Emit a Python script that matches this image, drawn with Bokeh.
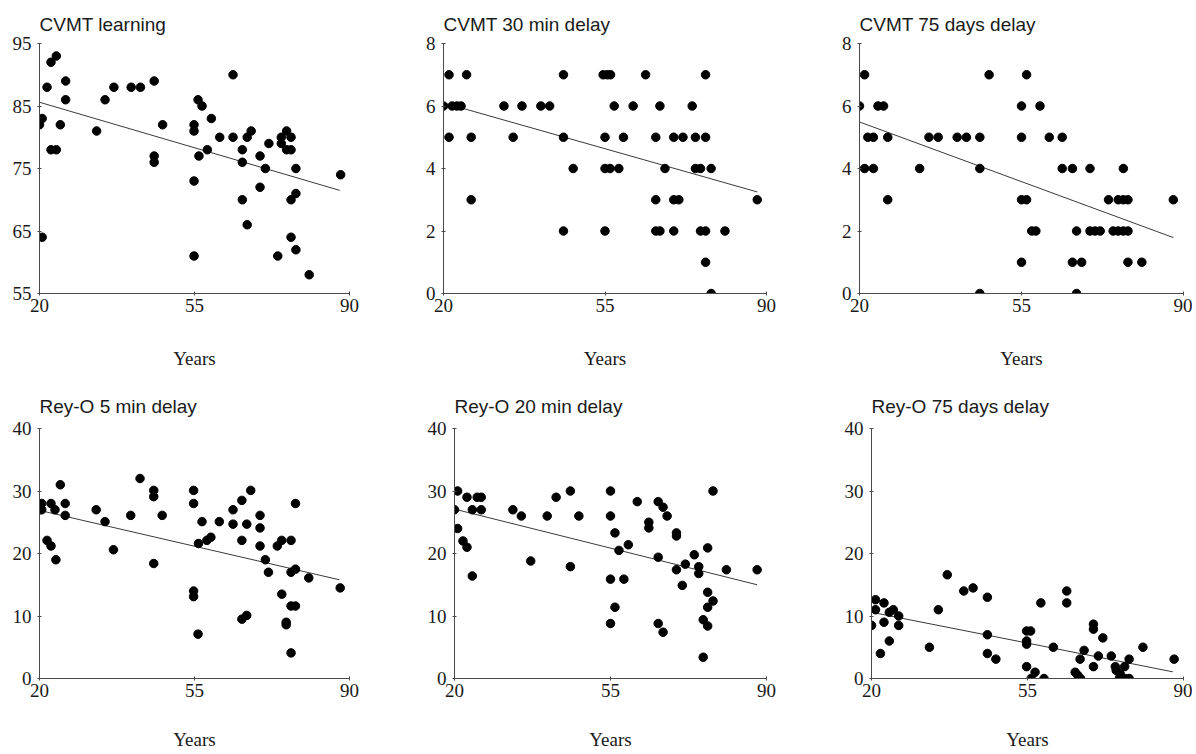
from bokeh.plotting import figure
from bokeh.layouts import column, row
from bokeh.models import Range1d, FixedTicker
from bokeh.embed import file_html
from bokeh.resources import INLINE

# ---------------- data ----------------
x_ticks = [20, 55, 90]

cvmt_learning_age = [20, 20.6, 20.6, 21.7, 22.6, 23.8, 22.6, 23.8, 24.7, 25.9, 25.9,
                     32.9, 34.8, 36.8, 40.7, 42.8, 45.9, 45.9, 45.9, 47.8,
                     54.9, 54.9, 54.9, 54.9, 55.8, 56.7, 56, 57.9, 58.8, 60.7,
                     63.7, 63.7, 65.8, 65.8, 65.8, 66.9, 67.8, 66.9, 69.8, 69.8,
                     71, 71.8, 73.8, 74.6, 74.6, 75.8, 76.8, 75.8, 76.8, 76.8,
                     76.8, 77.9, 77.9, 77.9, 80.9, 88]
cvmt_learning_score = [82, 83, 64, 88, 92, 93, 78, 78, 82, 89, 86,
                       81, 86, 88, 88, 88, 89, 77, 76, 82,
                       82, 81, 73, 61, 86, 85, 77, 78, 83, 80,
                       90, 80, 78, 76, 70, 80, 81, 66, 77, 72,
                       75, 79, 61, 80, 79, 81, 80, 78, 78, 70,
                       64, 75, 71, 62, 58, 74]
cvmt_learning_fit = [85.6, 71.5]
cvmt_learning_fit_age = [20, 87.8]

cvmt30_age = [20, 21.2, 21.2, 21.9, 22.9, 23.8, 25, 26, 26, 33.1, 35.1, 37, 41.1, 43,
              46, 46, 46, 48.1, 54.6, 55.5, 56.2, 55, 55, 56.1, 55, 57, 58, 59, 61.1,
              63.8, 66, 66, 66, 66.9, 66.9, 68, 69.9, 69.9, 71, 69.9, 71.9, 73.9,
              74.6, 74.6, 75.7, 75.7, 76.8, 76.8, 76.8, 76.8, 78, 78, 81, 88]
cvmt30_score = [6, 7, 5, 6, 6, 6, 7, 5, 3, 6, 5, 6, 6, 6,
                7, 5, 2, 4, 7, 7, 7, 5, 4, 4, 2, 6, 4, 5, 6,
                7, 5, 3, 2, 2, 6, 4, 5, 3, 3, 2, 5, 6,
                5, 4, 4, 2, 7, 5, 2, 1, 4, 0, 2, 3]
cvmt30_fit = [6.1, 3.25]
cvmt30_fit_age = [20, 88]

cvmt75_age = [20, 21.1, 21.1, 21.8, 23, 23, 24, 25.2, 26.1, 26.1, 33, 35, 37, 41.1,
              43.1, 46, 46, 46, 48, 55, 55, 55, 56.1, 55, 56.1, 57.2, 58.1, 59, 61,
              63.8, 63.8, 66, 66, 66.9, 66.9, 68, 69.8, 69.8, 70.9, 72, 73.8, 74.8,
              75.9, 75.9, 77, 77, 77, 78, 78, 78, 81, 87.8]
cvmt75_score = [6, 7, 4, 5, 5, 4, 6, 6, 5, 3, 4, 5, 5, 5,
                5, 5, 4, 0, 7, 6, 5, 3, 3, 1, 7, 2, 2, 6, 5,
                5, 4, 4, 1, 2, 0, 1, 4, 2, 2, 2, 3, 2,
                2, 3, 4, 3, 2, 3, 2, 1, 1, 3]
cvmt75_fit = [5.49, 1.79]
cvmt75_fit_age = [20, 87.8]

rey5_age = [20, 20.5, 20.5, 21.7, 22.6, 22.6, 23.5, 23.7, 24.7, 25.8, 25.8, 32.8,
            34.8, 36.7, 40.6, 42.7, 45.8, 45.8, 45.8, 47.7, 54.8, 54.8, 54.8, 54.8,
            55.8, 55.9, 56.7, 57.8, 58.7, 60.6, 63.7, 63.7, 65.7, 65.7, 65.7, 66.8,
            66.8, 67.7, 69.8, 69.8, 69.8, 71, 71.7, 73.7, 74.7, 74.7, 75.7, 75.7,
            76.8, 76.8, 76.8, 77.8, 77.8, 77.8, 76.8, 80.8, 87.9]
rey5_score = [27, 28, 27, 22.1, 21.2, 28, 27, 19, 31, 28, 26.1, 27,
              25.1, 20.6, 26.1, 32, 30.1, 29.1, 18.4, 26.1, 30.1, 28, 14, 13.1,
              7.1, 21.6, 25.1, 22.1, 22.6, 25.1, 27, 24.7, 28.5, 22.1, 9.5, 24.7,
              10.1, 30.1, 26.1, 24.1, 21.2, 19, 17, 21.2, 22.1, 13.5, 9, 8.6,
              22.1, 17, 11.6, 11.6, 17.5, 28, 4.1, 16.1, 14.5]
rey5_fit = [26.9, 15.8]
rey5_fit_age = [20, 87.7]

rey20_age = [20, 20.7, 20.7, 21.9, 22.8, 22.8, 24, 24, 25.1, 26, 26, 33.1, 35, 37.1,
             40.8, 42.8, 46, 46, 47.9, 55, 55, 55, 55, 56, 56, 56.9, 58, 59, 61,
             63.6, 63.6, 65.7, 65.7, 65.7, 66.8, 66.8, 67.7, 69.8, 69.8, 69.8, 71.1,
             71.8, 73.8, 74.8, 74.8, 75.8, 75.8, 76.8, 76.8, 76.8, 76.8, 78, 78, 81,
             87.9]
rey20_score = [27, 30, 24, 22, 21, 29, 27, 16.4, 29, 29, 27, 27, 26, 18.8,
               26, 29, 30, 17.9, 26, 30, 26, 15.9, 8.8, 23.3, 11.4, 20.5, 15.9, 21.4, 28.3,
               25, 24.1, 28.3, 19.4, 8.8, 27.4, 7.4, 26, 23.3, 22.8, 17.4, 14.9,
               18.3, 19.8, 17.9, 16.8, 9.4, 3.4, 20.9, 13.8, 11.4, 8.4, 30, 12.4, 17.4,
               17.4]
rey20_fit = [27.1, 15.0]
rey20_fit_age = [20, 87.9]

rey75_age = [20, 20.9, 20.9, 22, 22.8, 22.8, 24, 24, 24.9, 26.1, 26.1, 33, 35, 37,
             40.7, 42.8, 46, 46, 46, 47.9, 54.8, 55.7, 54.8, 54.8, 54.8, 55.8, 56.7,
             58, 58.7, 60.8, 63.8, 63.8, 65.7, 66.3, 66.8, 66.9, 67.7, 69.8, 69.8,
             69.8, 70.9, 71.9, 73.8, 74.7, 74.9, 75.6, 76.8, 76.8, 77.8, 77.8, 75.8,
             80.9, 87.9]
rey75_score = [8.5, 12.6, 11, 4, 12.1, 9, 6, 10.6, 11, 10, 8.5, 5, 11, 16.6,
               14, 14.5, 13, 7, 4, 3.1, 7.6, 7.6, 6, 5.5, 1.9, 0, 1,
               12.1, 0, 5, 14, 12.1, 1, 0.5, 3.1, 0, 4.5, 8.7, 7.9,
               1.9, 3.6, 6.5, 3.6, 1.9, 1.3, 0, 1.9, 0, 0, 3.1, 0.7,
               5, 3.1]
rey75_fit = [10.6, 1.07]
rey75_fit_age = [20, 87.6]

titles = ["CVMT learning", "CVMT 30 min delay", "CVMT 75 days delay",
          "Rey-O 5 min delay", "Rey-O 20 min delay", "Rey-O 75 days delay"]
y_ranges = [(55, 95), (0, 8), (0, 8), (0, 40), (0, 40), (0, 40)]
y_ticks = [[55, 65, 75, 85, 95], [0, 2, 4, 6, 8], [0, 2, 4, 6, 8],
           [0, 10, 20, 30, 40], [0, 10, 20, 30, 40], [0, 10, 20, 30, 40]]
x_label = "Years"

series = [
    (cvmt_learning_age, cvmt_learning_score, cvmt_learning_fit_age, cvmt_learning_fit),
    (cvmt30_age, cvmt30_score, cvmt30_fit_age, cvmt30_fit),
    (cvmt75_age, cvmt75_score, cvmt75_fit_age, cvmt75_fit),
    (rey5_age, rey5_score, rey5_fit_age, rey5_fit),
    (rey20_age, rey20_score, rey20_fit_age, rey20_fit),
    (rey75_age, rey75_score, rey75_fit_age, rey75_fit),
]

# ---------------- layout (widths, borders) ----------------
# (width, height, left, right, top, bottom, title standoff, label standoff)
geom = [
    (400, 380, 39, 51, 43, 87, 18, 33),
    (396, 380, 43, 30, 43, 87, 18, 33),
    (396, 380, 63, 9, 43, 87, 18, 33),
    (400, 374, 39, 51, 48, 76, 23, 29),
    (396, 374, 54, 30, 48, 76, 23, 29),
    (396, 374, 75, 9, 48, 76, 23, 29),
]

AXIS_COLOR = "#4a4a4a"
TEXT_COLOR = "#1a1a1a"
SERIF = "Liberation Serif"
SANS = "Liberation Sans"

figs = []
for i in range(6):
    w, h, bl, br, bt, bb, tst, lst = geom[i]
    xs, ys, fx, fy = series[i]
    p = figure(width=w, height=h, output_backend="svg", toolbar_location=None,
               x_range=Range1d(20, 90), y_range=Range1d(*y_ranges[i]),
               min_border_left=bl, min_border_right=br,
               min_border_top=bt, min_border_bottom=bb)
    p.outline_line_color = None
    p.grid.visible = False
    p.background_fill_color = "white"
    p.border_fill_color = "white"

    p.title.text = titles[i]
    p.title.text_font = SANS
    p.title.text_font_size = "19px"
    p.title.text_font_style = "normal"
    p.title.text_color = TEXT_COLOR
    p.title.align = "left"
    p.title.standoff = tst

    p.line(fx, fy, line_color="#3a3a3a", line_width=1)
    p.scatter(xs, ys, size=8.5, fill_color="black", line_color="black")

    for ax in (p.xaxis[0], p.yaxis[0]):
        ax.axis_line_color = AXIS_COLOR
        ax.axis_line_width = 1
        ax.major_tick_line_color = AXIS_COLOR
        ax.major_tick_in = 2
        ax.major_tick_out = 2
        ax.minor_tick_line_color = None
        ax.major_label_text_font = SERIF
        ax.major_label_text_font_size = "19px"
        ax.major_label_text_color = TEXT_COLOR

    p.xaxis.ticker = FixedTicker(ticks=x_ticks)
    p.yaxis.ticker = FixedTicker(ticks=y_ticks[i])
    p.xaxis.major_label_standoff = 3
    p.yaxis.major_label_standoff = 6
    p.xaxis.axis_label = x_label
    p.xaxis.axis_label_text_font = SERIF
    p.xaxis.axis_label_text_font_size = "19px"
    p.xaxis.axis_label_text_font_style = "normal"
    p.xaxis.axis_label_text_color = TEXT_COLOR
    p.xaxis.axis_label_standoff = lst
    figs.append(p)

layout = column(row(*figs[:3]), row(*figs[3:]))
open("out.html", "w").write(file_html(layout, INLINE))
